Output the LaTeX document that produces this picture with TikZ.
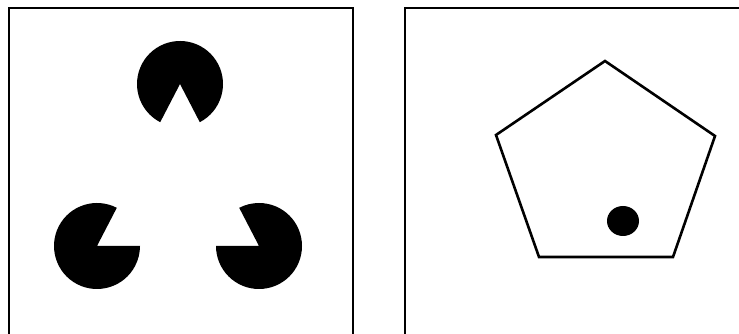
\documentclass[tikz,border=0pt]{standalone}
\begin{document}
\begin{tikzpicture}[x=1pt,y=1pt,
  frame/.style={line width=2.4pt,line cap=rect},
  pac/.style={fill=black},
  outline/.style={draw=black,line width=2.6pt,line join=miter}]
\useasboundingbox (0,0) rectangle (739,334);
\begin{scope}
\clip (0,0) rectangle (739,334);
% frames
\draw[frame] (9,-5) -- (9,326) -- (353,326) -- (353,-5);
\draw[frame] (405,-5) -- (405,326) -- (745,326);
% pacmen
\def\R{43}
\coordinate (top) at (180,250);
\coordinate (bl) at (97,88);
\coordinate (br) at (259,88);
\fill[pac] (top) -- ++(297.4:\R) arc[start angle=297.4,end angle=602.6,radius=\R] -- cycle;
\fill[pac] (bl) -- ++(62.6:\R) arc[start angle=62.6,end angle=360,radius=\R] -- cycle;
\fill[pac] (br) -- ++(180:\R) arc[start angle=180,end angle=477.4,radius=\R] -- cycle;
% pentagon
\coordinate (p1) at (605,273);
\coordinate (p2) at (715,198);
\coordinate (p3) at (673,77);
\coordinate (p4) at (539,77);
\coordinate (p5) at (496,199);
\draw[outline] (p1) -- (p2) -- (p3) -- (p4) -- (p5) -- cycle;
\fill (623,113) ellipse[x radius=16,y radius=15];
\end{scope}
\end{tikzpicture}
\end{document}
